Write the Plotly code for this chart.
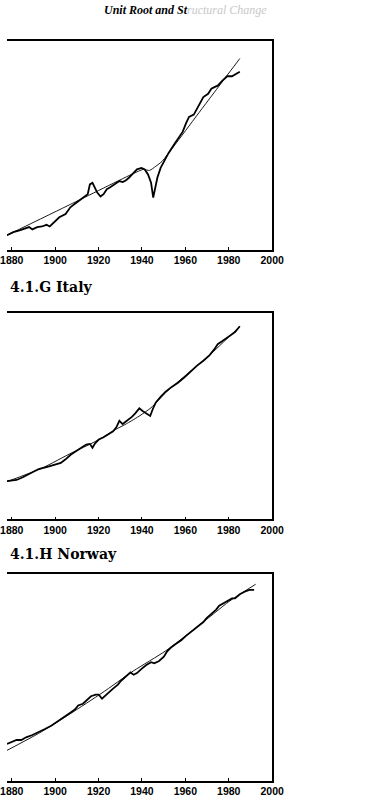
import plotly.graph_objects as go

# ---------- Panel 1 (upper, title cut off) ----------
years_p1 = [1877.8, 1880.7, 1883.6, 1886.6, 1888.0, 1889.5, 1891.7, 1893.9, 1896.0, 1897.5,
            1899.7, 1901.9, 1904.8, 1907.0, 1908.5, 1910.6, 1912.8, 1915.0, 1916.0, 1917.2,
            1919.4, 1920.9, 1922.3, 1923.8, 1925.2, 1926.7, 1928.2, 1929.6, 1931.1, 1932.5,
            1934.0, 1935.5, 1937.7, 1939.8, 1941.3, 1942.8, 1944.2, 1945.2, 1946.1, 1947.1,
            1948.6, 1950.1, 1952.3, 1955.2, 1957.4, 1958.8, 1960.3, 1961.7, 1963.9, 1965.4,
            1966.9, 1968.3, 1970.5, 1972.0, 1973.4, 1974.9, 1977.1, 1979.3, 1981.5, 1983.6,
            1985.1]
values_p1 = [7.0, 8.5, 9.3, 10.6, 10.9, 9.8, 10.9, 11.2, 12.0, 11.2,
             13.3, 15.6, 17.2, 20.4, 21.6, 23.2, 24.6, 26.7, 31.4, 32.2,
             27.5, 25.6, 26.7, 29.1, 29.9, 31.0, 31.8, 33.0, 32.5, 33.3,
             34.6, 36.2, 38.6, 39.3, 38.6, 36.2, 32.2, 25.1, 29.9, 34.6,
             39.3, 42.5, 46.5, 51.2, 54.4, 56.7, 60.7, 63.8, 64.9, 67.8,
             70.2, 73.3, 74.9, 77.3, 78.1, 78.8, 81.2, 83.3, 83.3, 84.4,
             85.5]
trend_years_p1 = [1877.8, 1907.0, 1936.2, 1940.6, 1943.5, 1946.4, 1949.3, 1955.2, 1965.4, 1985.1]
trend_p1 = [7.0, 21.8, 36.7, 38.6, 38.1, 40.1, 42.5, 50.4, 64.6, 91.8]

# ---------- Panel 2: 4.1.G Italy ----------
years_italy = [1877.8, 1882.2, 1885.1, 1888.0, 1892.4, 1896.8, 1899.7, 1902.6, 1904.8, 1907.0,
               1909.2, 1911.4, 1914.3, 1916.0, 1917.2, 1918.4, 1920.1, 1922.3, 1924.5, 1926.7,
               1928.2, 1929.6, 1931.1, 1933.3, 1935.5, 1936.9, 1938.8, 1940.3, 1942.0, 1943.8,
               1945.0, 1946.4, 1948.6, 1950.8, 1953.7, 1956.6, 1959.6, 1962.5, 1965.4, 1968.3,
               1971.2, 1973.4, 1974.9, 1977.1, 1980.0, 1982.9, 1985.1]
values_italy = [18.5, 19.1, 20.4, 22.0, 24.4, 25.6, 26.4, 27.4, 29.1, 31.2,
                32.8, 34.4, 36.3, 36.6, 34.7, 36.9, 38.7, 39.8, 41.1, 42.7,
                44.6, 47.8, 46.2, 47.8, 49.8, 51.4, 53.8, 52.5, 51.4, 50.1,
                53.5, 56.7, 59.4, 61.8, 64.2, 66.2, 68.9, 71.8, 74.5, 76.9,
                79.6, 82.5, 84.9, 86.4, 88.5, 90.7, 93.6]
trend_years_italy = [1877.8, 1893.9, 1907.7, 1915.8, 1921.6, 1927.4, 1933.3, 1939.1, 1944.2,
                     1950.8, 1959.6, 1971.2, 1985.1]
trend_italy = [18.3, 24.8, 32.3, 36.3, 39.5, 43.3, 46.6, 50.3, 54.1, 61.3, 69.3, 79.6, 93.6]

# ---------- Panel 3: 4.1.H Norway ----------
years_norway = [1877.8, 1880.0, 1882.2, 1884.4, 1886.6, 1889.5, 1892.4, 1895.3, 1898.2, 1901.2,
                1904.1, 1907.0, 1909.2, 1910.6, 1912.8, 1915.0, 1916.5, 1918.7, 1920.1, 1921.6,
                1923.1, 1924.5, 1926.7, 1928.9, 1930.4, 1932.5, 1934.7, 1936.2, 1937.7, 1939.8,
                1942.0, 1944.2, 1945.7, 1947.9, 1950.1, 1951.5, 1953.7, 1955.9, 1958.1, 1960.3,
                1962.5, 1965.4, 1968.3, 1969.8, 1972.0, 1974.2, 1975.6, 1978.5, 1981.5, 1982.9,
                1985.1, 1987.3, 1989.5, 1991.7]
values_norway = [17.9, 18.7, 19.8, 19.8, 21.1, 22.2, 23.5, 25.1, 26.7, 29.0,
                 30.9, 33.0, 34.6, 36.5, 37.3, 39.4, 40.9, 41.7, 41.7, 39.7,
                 41.3, 42.5, 44.6, 46.5, 48.4, 50.5, 52.4, 51.3, 52.1, 54.1,
                 56.0, 57.3, 56.8, 57.9, 60.0, 62.4, 64.7, 66.3, 67.9, 70.0,
                 71.9, 74.3, 76.7, 78.6, 80.6, 82.7, 84.6, 86.5, 88.1, 88.1,
                 90.1, 91.3, 92.2, 92.2]
trend_years_norway = [1877.8, 1892.4, 1907.0, 1921.6, 1936.2, 1950.8, 1965.4, 1980.0, 1985.1, 1992.4]
trend_norway = [14.8, 23.0, 32.5, 42.5, 53.2, 62.7, 74.3, 86.5, 90.1, 94.9]

titles = ["", "4.1.G Italy", "4.1.H Norway"]
tick_years = [1880, 1900, 1920, 1940, 1960, 1980, 2000]

panels = [
    (years_p1, values_p1, trend_years_p1, trend_p1),
    (years_italy, values_italy, trend_years_italy, trend_italy),
    (years_norway, values_norway, trend_years_norway, trend_norway),
]
H = 797.0
W = 382.0
frames = [(42, 253), (317, 526), (581, 791)]
title_y = [None, 291, 561]

fig = go.Figure()
layout = dict(
    width=382, height=797,
    margin=dict(l=0, r=0, t=0, b=0),
    paper_bgcolor="white", plot_bgcolor="white",
    showlegend=False,
)
for i, (yr, val, tyr, tval) in enumerate(panels):
    sx = "" if i == 0 else str(i + 1)
    fig.add_trace(go.Scatter(x=tyr, y=tval, mode="lines",
                             line=dict(color="#1a1a1a", width=1.0, shape="spline", smoothing=0.5),
                             xaxis="x" + sx, yaxis="y" + sx, hoverinfo="skip"))
    fig.add_trace(go.Scatter(x=yr, y=val, mode="lines",
                             line=dict(color="#000000", width=1.8),
                             xaxis="x" + sx, yaxis="y" + sx))
    top, bot = frames[i]
    layout["xaxis" + sx] = dict(
        domain=[0, 279 / W], range=[1877.8, 2000], anchor="y" + sx,
        showline=True, mirror=True, linecolor="black", linewidth=1.6,
        ticks="inside", ticklen=3, tickcolor="black", tickwidth=1,
        tickmode="array", tickvals=tick_years, ticktext=[str(t) for t in tick_years],
        tickfont=dict(family="Liberation Sans", size=10.5, color="black", weight="bold"),
        ticklabeloverflow="allow",
        showgrid=False, zeroline=False,
    )
    layout["yaxis" + sx] = dict(
        domain=[1 - bot / H, 1 - top / H], range=[0, 100], anchor="x" + sx,
        side="right", showline=True, linecolor="black", linewidth=2,
        ticks="", showticklabels=False, showgrid=False, zeroline=False,
    )

annotations = []
for i, t in enumerate(titles):
    if not t:
        continue
    annotations.append(dict(
        text="<b>" + t + "</b>", xref="paper", yref="paper",
        x=1 / W, y=1 - title_y[i] / H, xanchor="left", yanchor="middle", showarrow=False,
        font=dict(family="DejaVu Serif", size=14, color="black"),
    ))
# running head at the top of the page
annotations.append(dict(
    text="<b><i>Unit Root and St</i></b><span style='color:#c8c8c8'><i>ructural Change</i></span>",
    xref="paper", yref="paper",
    x=100 / W, y=1 - 1 / H, xanchor="left", yanchor="top", showarrow=False,
    font=dict(family="Liberation Serif", size=12, color="black"),
))
layout["annotations"] = annotations
fig.update_layout(**layout)
fig.write_html("out.html")
